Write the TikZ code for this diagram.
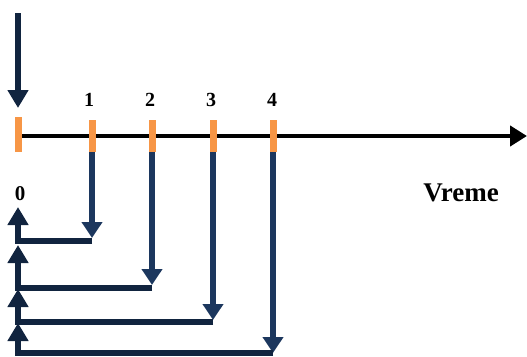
\documentclass[tikz,border=0pt]{standalone}
\usepackage{fontspec}
\setmainfont{Liberation Serif}
\usetikzlibrary{arrows.meta}
\definecolor{tickorange}{HTML}{F79646}
\definecolor{dropblue}{HTML}{1C375E}
\definecolor{backnavy}{HTML}{11243F}
\begin{document}
\begin{tikzpicture}[x=1pt,y=-1pt,
  axisline/.style={draw=black, line width=4.5pt, -{Triangle[width=20pt,length=17pt]}},
  tickmark/.style={draw=tickorange, line width=7pt},
  drop/.style={draw=dropblue, line width=6.5pt, -{Triangle[width=20pt,length=16pt]}},
  back/.style={draw=backnavy, line width=6.5pt, line join=miter, -{Triangle[width=20pt,length=18pt]}},
  lbl/.style={font=\bfseries\fontsize{20}{22}\selectfont, inner sep=0pt, text=black}]
\useasboundingbox (0,0) rectangle (527,356);
% coordinates
\coordinate (start) at (18,13);
\coordinate (t0top) at (18,117);
\coordinate (t0bot) at (18,152);
\coordinate (axL) at (18,136);
\coordinate (axR) at (527,136);
\foreach \n/\x in {1/92,2/152,3/213,4/273}{
  \coordinate (t\n top) at (\x,120);
  \coordinate (t\n bot) at (\x,152);
}
\coordinate (e1) at (92,241);
\coordinate (e2) at (152,288);
\coordinate (e3) at (213,322);
\coordinate (e4) at (273,353);
\coordinate (l0) at (18,207);
\coordinate (l1) at (18,241);
\coordinate (l2) at (18,288);
\coordinate (l3) at (18,322);
\coordinate (l4) at (18,353);
% axis
\draw[axisline] (axL) -- (axR);
\draw[back, draw=backnavy] (start) -- (18,108);
\draw[tickmark] (t0top) -- (t0bot);
\foreach \n in {1,2,3,4}{\draw[tickmark] (t\n top) -- (t\n bot);}
% drops
\draw[drop] (t1bot) -- (92,238);
\draw[drop] (t2bot) -- (152,285);
\draw[drop] (t3bot) -- (213,320);
\draw[drop] (t4bot) -- (273,353);
% returns
\draw[back] (e1) -- (l1) -- (l0);
\draw[back] (e2) -- (l2) -- (18,245);
\draw[back] (e3) -- (l3) -- (18,289);
\draw[back] (e4) -- (l4) -- (18,323);
% labels
\node[lbl] (n1) at (89,100) {1};
\node[lbl] (n2) at (150,100) {2};
\node[lbl] (n3) at (211,100) {3};
\node[lbl] (n4) at (272,100) {4};
\node[lbl, font=\bfseries\fontsize{21}{23}\selectfont] (n0) at (20,194) {0};
\node[lbl, font=\bfseries\fontsize{27}{29}\selectfont] (vr) at (461,193) {Vreme};
\end{tikzpicture}
\end{document}
